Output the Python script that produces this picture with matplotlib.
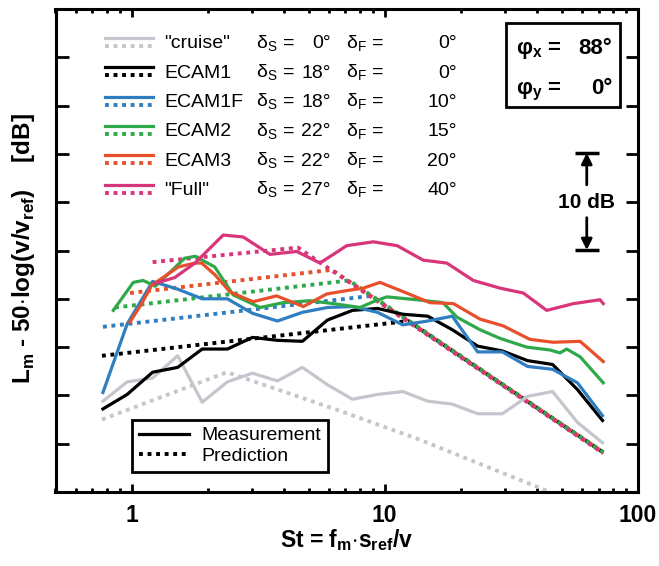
import matplotlib
matplotlib.use("Agg")
import matplotlib.pyplot as plt
from matplotlib.lines import Line2D
from matplotlib.patches import Rectangle
from matplotlib.ticker import LogLocator, NullFormatter
import numpy as np

plt.rcParams["font.family"] = ["Liberation Sans", "DejaVu Sans"]
plt.rcParams["mathtext.fontset"] = "custom"
plt.rcParams["mathtext.rm"] = "Liberation Sans"
plt.rcParams["mathtext.bf"] = "Liberation Sans:bold"

# --- data ----------------------------------------------------------------
# 1/3-octave Strouhal grid used by "cruise", ECAM1 and ECAM1F measurements
st_grid = [0.77, 0.96, 1.21, 1.52, 1.9, 2.39, 3.0, 3.77, 4.73, 5.94, 7.46,
           9.37, 11.8, 14.8, 18.5, 23.3, 29.2, 36.7, 46.1, 57.8, 72.6]
cruise_meas = [9.4, 11.4, 11.8, 14.1, 9.3, 11.4, 12.3, 11.5, 12.9, 11.1, 9.6,
               10.1, 10.4, 9.4, 9.1, 8.1, 8.1, 9.9, 10.4, 7.2, 5.1]
ecam1_meas = [8.6, 10.1, 12.4, 12.9, 14.8, 14.8, 16.0, 15.7, 15.6, 17.8, 18.8,
              19.0, 18.4, 18.2, 16.8, 15.1, 14.6, 13.6, 13.2, 10.6, 7.4]
ecam1f_meas = [10.3, 17.4, 21.8, 21.0, 20.0, 20.0, 18.5, 17.7, 18.6, 19.1, 19.2,
               18.6, 17.3, 17.7, 18.2, 14.5, 14.5, 13.0, 12.7, 11.3, 7.9]

ecam2_st = [0.846, 1.015, 1.11, 1.24, 1.62, 1.78, 2.13, 2.52, 3.22, 3.97, 5.07,
            6.26, 7.99, 9.02, 10.2, 13.4, 17.0, 19.3, 23.8, 28.6, 36.4, 45.0,
            49.3, 52.4, 59.2, 73.1]
ecam2_meas = [18.8, 21.7, 21.9, 21.3, 24.2, 24.4, 23.3, 20.4, 19.1, 19.6, 19.8,
              19.5, 19.1, 19.7, 20.2, 19.9, 19.6, 18.1, 16.8, 15.9, 15.0, 14.7,
              14.4, 14.8, 14.0, 11.3]

ecam3_st = [0.985, 1.095, 1.2, 1.53, 1.78, 1.89, 2.13, 2.45, 3.02, 3.74, 4.77,
            5.9, 7.29, 8.23, 9.58, 12.2, 15.1, 18.7, 23.8, 29.4, 37.5, 46.4,
            59.2, 73.1]
ecam3_meas = [17.6, 19.5, 21.4, 23.3, 23.7, 23.7, 22.5, 20.7, 19.7, 20.3, 19.2,
              20.5, 20.9, 21.1, 21.7, 20.6, 19.6, 19.5, 17.9, 17.2, 15.8, 15.5,
              15.6, 13.5]

full_st = [1.24, 1.48, 1.78, 2.3, 2.76, 3.52, 4.49, 5.55, 7.08, 9.02, 11.2,
           14.2, 17.6, 22.4, 28.6, 35.3, 43.7, 55.7, 71.0, 73.1]
full_meas = [21.6, 22.2, 23.7, 26.6, 26.4, 24.6, 24.9, 23.7, 25.5, 25.9, 25.5,
             24.0, 23.7, 21.9, 21.1, 20.6, 18.8, 19.5, 19.9, 19.5]

# predictions (straight segments in log St)
cruise_pred_st = [0.763, 2.38, 6.66, 13.8, 45.0]
cruise_pred = [7.5, 12.4, 8.4, 5.4, 0.0]
ecam1_pred_st = [0.763, 12.4, 73.1]
ecam1_pred = [14.1, 17.7, 4.1]
ecam1f_pred_st = [0.770, 8.83, 73.1]
ecam1f_pred = [17.1, 20.3, 4.1]
ecam2_pred_st = [0.859, 7.23, 73.1]
ecam2_pred = [19.1, 21.9, 4.1]
ecam3_pred_st = [0.985, 6.19, 73.1]
ecam3_pred = [20.6, 23.0, 4.1]
full_pred_st = [1.21, 4.54, 73.1]
full_pred = [23.8, 25.3, 4.0]

names = ['"cruise"', "ECAM1", "ECAM1F", "ECAM2", "ECAM3", '"Full"']
delta_s = [0, 18, 18, 22, 22, 27]
delta_f = [0, 0, 10, 15, 20, 40]
colors = ["#c3c6cc", "black", "#2f7ec1", "#2fa84a", "#e8502c", "#d8357a"]

meas = [(st_grid, cruise_meas), (st_grid, ecam1_meas), (st_grid, ecam1f_meas),
        (ecam2_st, ecam2_meas), (ecam3_st, ecam3_meas), (full_st, full_meas)]
preds = [(cruise_pred_st, cruise_pred), (ecam1_pred_st, ecam1_pred),
         (ecam1f_pred_st, ecam1f_pred), (ecam2_pred_st, ecam2_pred),
         (ecam3_pred_st, ecam3_pred), (full_pred_st, full_pred)]

DOT = (0, (1, 1.2))
W_PX, H_PX = 659, 566


def fx(px):
    return px / W_PX


def fy(py):
    return 1 - py / H_PX


fig = plt.figure(figsize=(6.59, 5.66), dpi=100)
ax = fig.add_axes([fx(55.5), fy(492), (637.7 - 55.5) / W_PX, (492 - 9) / H_PX])

# predictions first, measurements on top
for (x, y), c in zip(preds, colors):
    ax.plot(x, y, color=c, lw=2.8, linestyle=DOT, dash_capstyle="butt")
for (x, y), c in zip(meas, colors):
    ax.plot(x, y, color=c, lw=2.3, solid_joinstyle="round")

ax.set_xscale("log")
ax.set_xlim(0.5, 100)
ax.set_ylim(0, 50)
ax.set_yticks(np.arange(0, 51, 5))
ax.yaxis.set_ticklabels([])
ax.set_xticks([1, 10, 100])
ax.set_xticklabels(["1", "10", "100"])
ax.xaxis.set_minor_locator(LogLocator(subs=np.arange(2, 10)))
ax.xaxis.set_minor_formatter(NullFormatter())
ax.tick_params(which="both", direction="in", top=True, right=True, width=2)
ax.tick_params(axis="y", which="major", length=9)
ax.tick_params(axis="x", which="major", length=6, labelsize=16.5, pad=9)
ax.tick_params(which="minor", length=3)
for lbl in ax.get_xticklabels():
    lbl.set_fontweight("bold")
for s in ax.spines.values():
    s.set_linewidth(2.2)

fig.text(fx(346.6), fy(540), r"St = f$_\mathregular{m}$$\cdot$s$_\mathregular{ref}$/v",
         ha="center", va="center", fontsize=16.5, fontweight="bold")
fig.text(fx(24), fy(248), r"L$_\mathregular{m}$ - 50$\cdot$log(v/v$_\mathregular{ref}$)    [dB]",
         ha="center", va="center", rotation=90, fontsize=17.5, fontweight="bold")

# configuration legend (solid over dotted sample)
row_y0, row_dy = 42, 29.3
for i, (name, ds, dfl, c) in enumerate(zip(names, delta_s, delta_f, colors)):
    yc = row_y0 + i * row_dy
    fig.add_artist(Line2D([fx(105), fx(153)], [fy(yc - 4)] * 2, color=c, lw=2.3))
    fig.add_artist(Line2D([fx(105), fx(153)], [fy(yc + 4)] * 2, color=c, lw=2.8,
                          linestyle=DOT, dash_capstyle="butt"))
    yb = fy(yc + 6.5)
    fig.text(fx(164), yb, name, va="baseline", fontsize=14)
    fig.text(fx(256), yb, r"δ$_\mathregular{S}$ =", va="baseline", fontsize=14)
    fig.text(fx(331), yb, f"{ds}°", ha="right", va="baseline", fontsize=14)
    fig.text(fx(346), yb, r"δ$_\mathregular{F}$ =", va="baseline", fontsize=14)
    fig.text(fx(457), yb, f"{dfl}°", ha="right", va="baseline", fontsize=14)

# angle box
fig.add_artist(Rectangle((fx(506), fy(107)), (620 - 506) / W_PX, (107 - 23) / H_PX,
                         transform=fig.transFigure, fill=False, lw=2, ec="black"))
for yc, lab, val in [(47, r"φ$_\mathregular{x}$ =", "88°"), (87, r"φ$_\mathregular{y}$ =", "0°")]:
    fig.text(fx(562), fy(yc + 7), lab, ha="right", va="baseline", fontsize=16, fontweight="bold")
    fig.text(fx(612), fy(yc + 7), val, ha="right", va="baseline", fontsize=16, fontweight="bold")

# 10 dB scale marker
x_bar = 62.9
arrow = dict(arrowstyle="-|>", lw=2, color="black", shrinkA=0, shrinkB=0, mutation_scale=16)
ax.annotate("", xy=(x_bar, 35.1), xytext=(x_bar, 31.8), arrowprops=arrow)
ax.annotate("", xy=(x_bar, 25.05), xytext=(x_bar, 28.4), arrowprops=arrow)
ax.plot([x_bar, x_bar], [35.1, 25.05], linestyle="none", marker="_", ms=17, mew=2.5, color="black")
ax.text(x_bar, 30, "10 dB", ha="center", va="center", fontsize=15, fontweight="bold")

# measurement / prediction legend
handles = [Line2D([], [], color="black", lw=2.3, label="Measurement"),
           Line2D([], [], color="black", lw=2.8, linestyle=DOT, dash_capstyle="butt",
                  label="Prediction")]
leg = ax.legend(handles=handles, loc="upper left", bbox_to_anchor=(fx(132), fy(420)),
                bbox_transform=fig.transFigure, frameon=True, fancybox=False,
                edgecolor="black", framealpha=1, fontsize=14, handlelength=2.6,
                borderaxespad=0, borderpad=0.35, labelspacing=0.15, handletextpad=0.6)
leg.get_frame().set_linewidth(2)

fig.savefig("out.png", dpi=100)
